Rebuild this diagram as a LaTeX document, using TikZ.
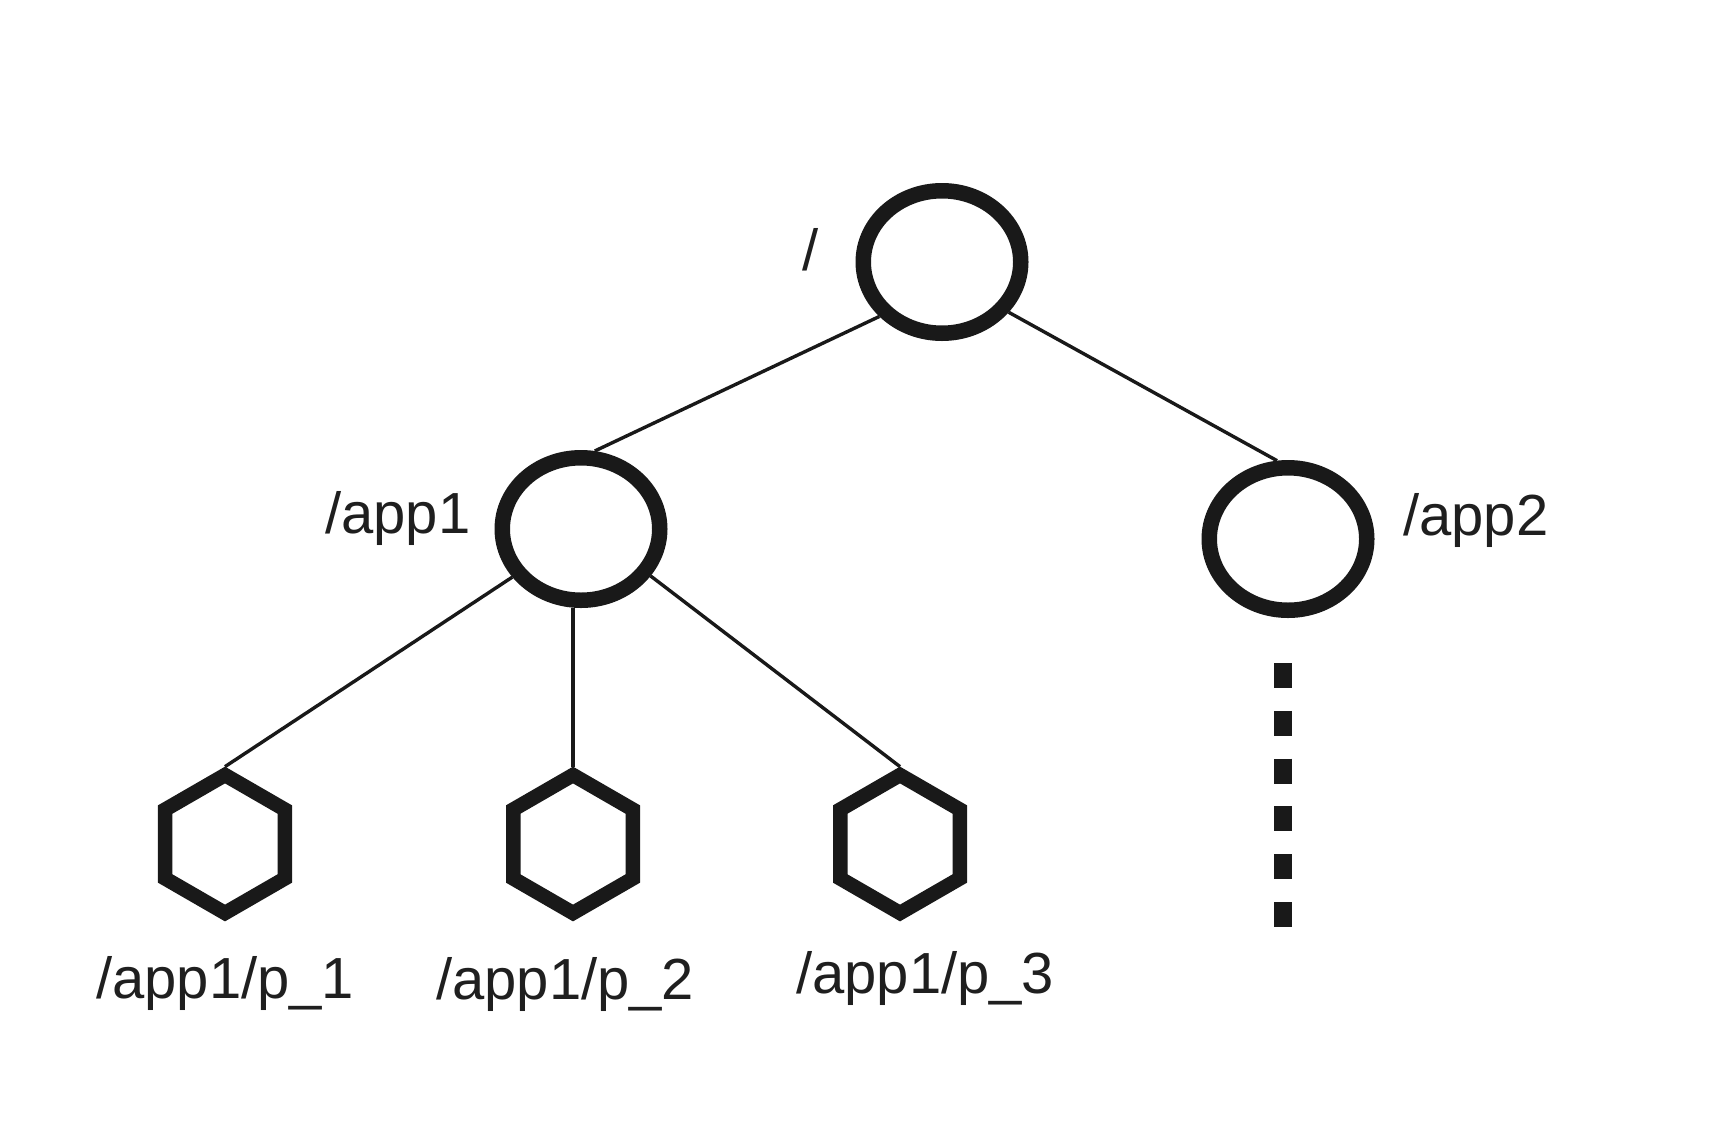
\documentclass[tikz,border=0pt]{standalone}
\usepackage{fontspec}
\setmainfont{Liberation Sans}
\usetikzlibrary{shapes,positioning}

\begin{document}
\begin{tikzpicture}[x=1pt,y=-1pt,
  znode/.style={ellipse,draw=black!90,line width=15.5pt,minimum width=157.5pt,minimum height=142.5pt,inner sep=0pt},
  pnode/.style={regular polygon,regular polygon sides=6,shape border rotate=30,draw=black!90,line width=14.5pt,minimum size=138pt,inner sep=0pt},
  edge/.style={draw=black!90,line width=3.4pt},
  contline/.style={draw=black!90,line width=18pt,dash pattern=on 25pt off 22.8pt},
  lbl/.style={font=\fontsize{58}{60}\selectfont,text=black!88,inner sep=0pt,anchor=base west}]
\useasboundingbox (0,0) rectangle (1736,1122);
\node[znode] (root) at (942,262) {};
\node[znode] (app1) at (581,529) {};
\node[znode] (app2) at (1288,539) {};
\node[pnode] (p1) at (225,844) {};
\node[pnode] (p2) at (573,844) {};
\node[pnode] (p3) at (900,844) {};
\coordinate (dtop) at (1283,663);
\coordinate (dbot) at (1283,927);
\draw[edge] (root.221) -- (app1.80);
\draw[edge] (root.323) -- (app2.98);
\draw[edge] (app1.215) -- (p1.north);
\draw[edge] (app1.south -| p2.north) -- (p2.north);
\draw[edge] (app1.326) -- (p3.north);
\draw[contline] (dtop) -- (dbot);
\node[lbl] (lroot) at (802,270) {/};
\node[lbl] (lapp1) at (325,533) {/app1};
\node[lbl] (lapp2) at (1403,535) {/app2};
\node[lbl] (lp1) at (96,998) {/app1/p\_1};
\node[lbl] (lp2) at (436,999) {/app1/p\_2};
\node[lbl] (lp3) at (796,993) {/app1/p\_3};
\end{tikzpicture}
\end{document}
